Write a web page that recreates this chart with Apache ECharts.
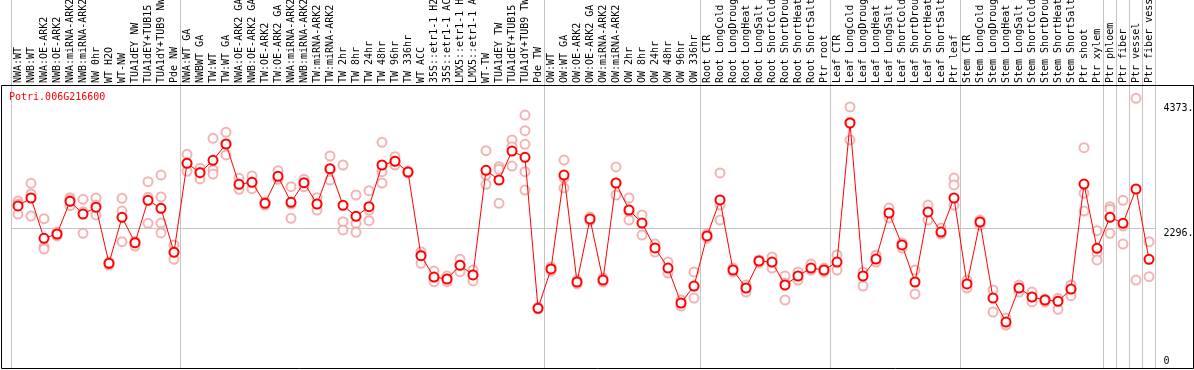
<!DOCTYPE html>
<html>
<head>
<meta charset="utf-8">
<script src="https://cdn.jsdelivr.net/npm/echarts@6/dist/echarts.min.js"></script>
<style>
html,body{margin:0;padding:0;background:#fff;}
#chart{width:1194px;height:370px;}
</style>
</head>
<body>
<div id="chart"></div>
<script>
const title = 'Potri.006G216600';
const categories = [
'NWA:WT','NWB:WT','NWA:OE-ARK2','NWB:OE-ARK2','NWA:miRNA-ARK2','NWB:miRNA-ARK2','NW 0hr','WT H2O','WT-NW','TUA1dEY NW',
'TUA1dEY+TUB15 NW','TUA1dY+TUB9 NW','Pde NW','NWA:WT GA','NWBWT GA','TW:WT','TW:WT GA','NWA:OE-ARK2 GA','NWB:OE-ARK2 GA','TW:OE-ARK2',
'TW:OE-ARK2 GA','NWA:miRNA-ARK2','NWB:miRNA-ARK2','TW:miRNA-ARK2','TW:miRNA-ARK2 GA','TW 2hr','TW 8hr','TW 24hr','TW 48hr','TW 96hr',
'TW 336hr','WT ACC','35S::etr1-1 H2O','35S::etr1-1 ACC','LMX5::etr1-1 H2O','LMX5::etr1-1 ACC','WT-TW','TUA1dEY TW','TUA1dEY+TUB15 TW','TUA1dY+TUB9 TW',
'Pde TW','OW:WT','OW:WT GA','OW:OE-ARK2','OW:OE-ARK2 GA','OW:miRNA-ARK2','OW:miRNA-ARK2 GA','OW 2hr','OW 8hr','OW 24hr',
'OW 48hr','OW 96hr','OW 336hr','Root CTR','Root LongCold','Root LongDrought','Root LongHeat','Root LongSalt','Root ShortCold','Root ShortDrought',
'Root ShortHeat','Root ShortSalt','Ptr root','Leaf CTR','Leaf LongCold','Leaf LongDrought','Leaf LongHeat','Leaf LongSalt','Leaf ShortCold','Leaf ShortDrought',
'Leaf ShortHeat','Leaf ShortSalt','Ptr leaf','Stem CTR','Stem LongCold','Stem LongDrought','Stem LongHeat','Stem LongSalt','Stem ShortCold','Stem ShortDrought',
'Stem ShortHeat','Stem ShortSalt','Ptr shoot','Ptr xylem','Ptr phloem','Ptr fiber','Ptr vessel','Ptr fiber vessel'
];
const meanValues = [
2667,2800,2128,2200,2745,2533,2645,1712,2478,2055,
2762,2628,1895,3378,3222,3428,3700,3028,3062,2712,
3162,2728,3055,2700,3288,2678,2495,2655,3350,3412,
3233,1838,1483,1450,1678,1517,3262,3100,3583,3478,
962,1617,3183,1400,2450,1433,3050,2600,2383,1967,
1633,1050,1333,2167,2767,1600,1300,1750,1733,1350,
1500,1633,1600,1733,4050,1500,1783,2550,2017,1400,
2567,2233,2800,1367,2400,1133,733,1300,1150,1100,
1078,1283,3033,1962,2478,2378,2950,1778
];
const replicateValues = [
[2750,2700,2533],[3045,2867,2500],[2455,1988,1950],[2233,2167,2200],[2805,2672,2767],
[2778,2572,2212],[2800,2683,2517],[1733,1683,1700],[2795,2583,2072],[2078,2000,2050],
[3072,2812,2378],[3183,2817,2383,2217],[2017,1900,1778],[3528,3383,3245],[3295,3233,3117],
[3795,3267,3200],[3895,3700,3517],[3128,3017,2945],[3167,3067,2955],[2738,2712,2683],
[3255,3133,3112],[2988,2700,2462],[3112,3050,2988],[2805,2700,2600],[3500,3267,3100],
[3350,2405,2267],[2850,2378,2228],[2922,2600,2422],[3728,3238,3050],[3488,3417,3350],
[3250,3233,3217],[1905,1850,1712],[1583,1467,1405],[1500,1450,1405],[1778,1683,1572],
[1600,1517,1417],[3588,3183,3028],[3322,3278,2712],[3767,3655,3333],[4183,3922,3695,3238,2933],
[983,950],[1650,1583],[3433,3133,2967],[1433,1367],[2483,2417],
[1467,1400],[3317,3050,2850],[2800,2567,2433],[2517,2183],[2033,1900],
[1733,1550],[1100,1000],[1567,1333,1133],[2200,2133],[3217,2683,2433],
[1633,1567],[1350,1300,1233],[1767,1717],[1817,1717,1633],[1500,1383,1100],
[1567,1433],[1700,1600],[1633,1567],[1850,1600],[4317,4067,3767],
[1567,1333],[1850,1733],[2633,2467],[2050,1967],[1600,1200],
[2683,2433],[2300,2200],[3133,3017,2683],[1433,1300],[2433,2350],
[1267,900],[800,683],[1350,1233],[1233,1067],[1117,1067],
[1128,1083,945],[1350,1267,1172],[3638,2878,2583],[2255,1878,1767],[2655,2612,2212],
[2762,2333,2033],[4462,1433],[2072,1488]
];
const yTickLabels = [2296, 4373];
const yZeroLabel = [0];
const refLineValue = 2296;
const groupStarts = [0, 13, 41, 53, 63, 73, 84, 85, 86, 87];

const repData = [];
replicateValues.forEach((arr, i) => arr.forEach(v => repData.push([i, v])));

const FONT = 'DejaVu Sans Mono';
const yMin = -45, yMax = 6100;

const chart = echarts.init(document.getElementById('chart'), null, {renderer: 'canvas'});
chart.setOption({
  animation: false,
  backgroundColor: '#ffffff',
  title: {
    text: title, left: 4, top: 87,
    textStyle: {color: '#ff0000', fontFamily: FONT, fontSize: 10, fontWeight: 'normal'}
  },
  grid: {left: 11.5, right: 38.5, top: 0, bottom: 1.3, containLabel: false, outerBoundsMode: 'none'},
  xAxis: {
    type: 'category', position: 'top', offset: -85,
    data: categories, boundaryGap: true,
    axisLine: {show: false}, axisTick: {show: false},
    axisLabel: {interval: 0, rotate: 90, margin: 2, color: '#000', fontFamily: FONT, fontSize: 10, hideOverlap: false},
    splitLine: {show: true, interval: (idx) => groupStarts.indexOf(idx) >= 0,
      lineStyle: {color: '#c4c4c4', width: 1}}
  },
  yAxis: [
    {type: 'value', position: 'right', min: yMin, max: yMax,
     axisLine: {show: false}, axisTick: {show: false}, splitLine: {show: false},
     axisLabel: {customValues: yTickLabels, margin: 8, verticalAlign: 'top',
       color: '#000', fontFamily: FONT, fontSize: 10, formatter: v => v + '.'}},
    {type: 'value', position: 'right', min: yMin, max: yMax,
     axisLine: {show: false}, axisTick: {show: false}, splitLine: {show: false},
     axisLabel: {customValues: yZeroLabel, margin: 8, verticalAlign: 'bottom',
       color: '#000', fontFamily: FONT, fontSize: 10, formatter: v => String(v)}}
  ],
  graphic: [{
    type: 'rect', silent: true, z: 100,
    shape: {x: 1.5, y: 85.5, width: 1192, height: 283},
    style: {fill: 'none', stroke: '#000', lineWidth: 1}
  }],
  series: [
    {type: 'scatter', data: repData, yAxisIndex: 0,
     symbol: 'emptyCircle', symbolSize: 9,
     itemStyle: {color: '#f0a0a0', borderColor: '#f0a0a0', borderWidth: 1.1},
     z: 2},
    {type: 'line', data: meanValues, yAxisIndex: 0,
     symbol: 'emptyCircle', symbolSize: 9, showAllSymbol: true,
     lineStyle: {color: '#ff0000', width: 1},
     itemStyle: {color: '#ff0000', borderColor: '#ff0000', borderWidth: 1.4},
     z: 3,
     markLine: {silent: true, symbol: 'none', label: {show: false},
       lineStyle: {color: '#c4c4c4', width: 1, type: 'solid'},
       data: [{yAxis: refLineValue}], z: 1}}
  ]
});
</script>
</body>
</html>
